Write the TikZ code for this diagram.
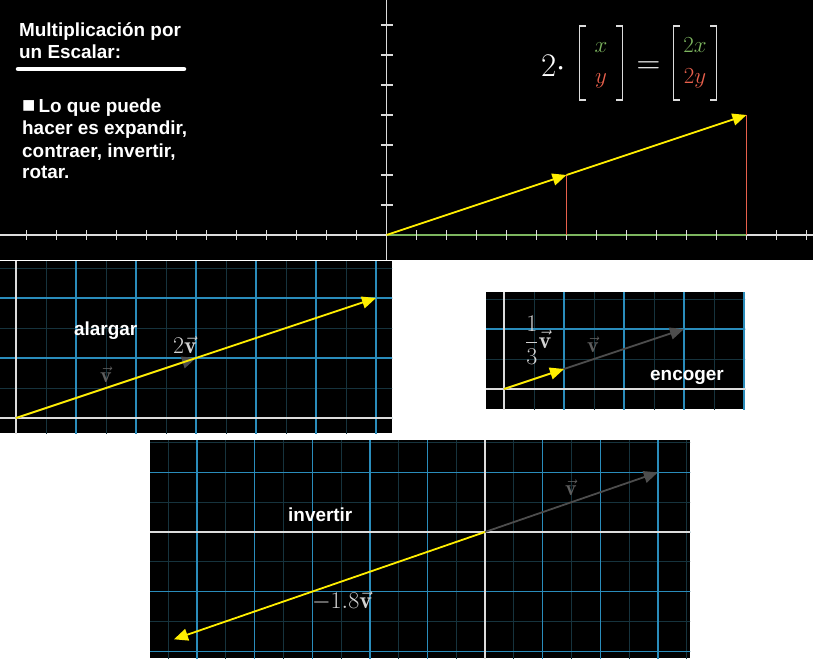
\RequirePackage{fix-cm}
\documentclass[tikz,border=0pt]{standalone}
\usepackage{fontspec}
\usetikzlibrary{arrows.meta}
\newfontfamily\lib{Liberation Sans}
\definecolor{axgray}{HTML}{DCDCDC}
\definecolor{gridblue}{HTML}{2A8CBB}
\definecolor{gridteal}{HTML}{16333D}
\definecolor{vyellow}{HTML}{FFEE00}
\definecolor{vgray}{HTML}{4D4D4D}
\definecolor{lblgray}{HTML}{5E5E5E}
\definecolor{lbllight}{HTML}{D2D2D2}
\definecolor{mgreen}{HTML}{7DB55F}
\definecolor{mred}{HTML}{E8604C}
\begin{document}
\begin{tikzpicture}[x=1pt,y=-1pt,
  txt/.style={text=white, font=\lib\bfseries\fontsize{18.9}{22}\selectfont, inner sep=0pt, anchor=base west},
  mathlbl/.style={inner sep=0pt, font=\fontsize{24}{28}\selectfont},
  graylbl/.style={inner sep=0pt, text=lblgray, font=\fontsize{22}{26}\selectfont},
  bigmath/.style={inner sep=0pt, text=white, font=\fontsize{33}{38}\selectfont},
  entry/.style={inner sep=0pt, anchor=base, font=\fontsize{23}{27}\selectfont},
  axisline/.style={draw=axgray, line width=1.5pt},
  gaxis/.style={draw=axgray, line width=1.8pt},
  majorgrid/.style={draw=gridblue, line width=1.4pt},
  minorgrid/.style={draw=gridteal, line width=0.8pt},
  redline/.style={draw=mred, line width=1.6pt},
  bracketline/.style={draw=axgray, line width=1.6pt},
  yvec/.style={draw=vyellow, line width=1.8pt, -{Triangle[length=14pt,width=12pt]}},
  gvec/.style={draw=vgray, line width=1.8pt, -{Triangle[length=14pt,width=12pt]}}
]
\useasboundingbox (0,0) rectangle (817,662);
\fill[white] (0,0) rectangle (817,662);

% ---------------- top panel ----------------
\fill[black] (0,0) rectangle (813,260);
\coordinate (O) at (386.5,235);
\coordinate (Vx) at (566.5,235);
\coordinate (V) at (566.5,175);
\coordinate (Wx) at (746.5,235);
\coordinate (W) at (746.5,115);
\coordinate (axL) at (0,235);
\coordinate (axR) at (813,235);
\coordinate (axT) at (386.5,0);
\coordinate (axB) at (386.5,260);
\draw[axisline] (axL) -- (axR);
\draw[axisline] (axT) -- (axB);
\draw[mgreen, line width=2pt] (O) -- (Wx);
\foreach \k in {-12,...,-1} \draw[axisline] ({386.5+30*\k},230) -- ({386.5+30*\k},240);
\foreach \k in {1,...,14} \draw[axisline] ({386.5+30*\k},230) -- ({386.5+30*\k},240);
\foreach \k in {1,...,7} \draw[axisline] (380.5,{235-30*\k}) -- (392.5,{235-30*\k});
\draw[redline] (Vx) -- (V);
\draw[redline] (Wx) -- (W);
\draw[yvec] (O) -- (V);
\draw[yvec] (V) -- (W);

% equation
\node[bigmath, anchor=base west] (two) at (541,76) {$2\cdot$};
\draw[bracketline] (586,26) -- (579.5,26) -- (579.5,100) -- (586,100);
\draw[bracketline] (616,26) -- (622.5,26) -- (622.5,100) -- (616,100);
\node[entry, text=mgreen] (ex) at (601,52) {$x$};
\node[entry, text=mred] (ey) at (601,83) {$y$};
\node[bigmath, anchor=base] (eq) at (648.5,73.5) {$=$};
\draw[bracketline] (680,26) -- (673.5,26) -- (673.5,100) -- (680,100);
\draw[bracketline] (710,26) -- (716.5,26) -- (716.5,100) -- (710,100);
\node[entry, text=mgreen] (e2x) at (695,52) {$2x$};
\node[entry, text=mred] (e2y) at (695,83) {$2y$};

% text
\node[txt] (t1) at (19,36) {Multiplicación por};
\node[txt] (t2) at (19,58) {un Escalar:};
\coordinate (u1) at (18,69);
\coordinate (u2) at (184,69);
\draw[white, line width=4.5pt, line cap=round] (u1) -- (u2);
\node[txt] (b1) at (22,112) {{\fontsize{22}{22}\selectfont■}\,Lo que puede};
\node[txt] (b2) at (22,134) {hacer es expandir,};
\node[txt] (b3) at (22,157) {contraer, invertir,};
\node[txt] (b4) at (22,178) {rotar.};

% ---------------- panel 2: alargar ----------------
\fill[black] (0,261) rectangle (392,433);
\begin{scope}
\clip (0,261) rectangle (392,433);
\begin{scope}[shift={(16,418)}, x=60pt, y=60pt]
  \draw[minorgrid] (-1,-1) grid[step=0.5] (7,3);
  \draw[majorgrid] (-1,-1) grid[step=1] (7,3);
  \draw[gaxis] (-1,0) -- (7,0);
  \draw[gaxis] (0,-1) -- (0,3);
  \coordinate (A0) at (0,0);
  \coordinate (A1) at (3,1);
  \coordinate (A2) at (6,2);
  \draw[gvec] (A0) -- (A1);
  \draw[yvec] (A0) -- (A2);
\end{scope}
\end{scope}
\node[mathlbl, text=lbllight] (L2v) at (185,345) {$2\vec{\mathbf{v}}$};
\node[graylbl] (Lv2) at (106,375) {$\vec{\mathbf{v}}$};
\node[txt] (alargar) at (74,335) {alargar};

% ---------------- panel 3: encoger ----------------
\fill[black] (486,292) rectangle (745,409);
\begin{scope}
\clip (486,292) rectangle (745,409);
\begin{scope}[shift={(504,389)}, x=60pt, y=60pt]
  \draw[minorgrid] (-1,-1) grid[step=0.5] (5,2);
  \draw[majorgrid] (-1,-1) grid[step=1] (5,2);
  \draw[gaxis] (-1,0) -- (5,0);
  \draw[gaxis] (0,-1) -- (0,2);
  \coordinate (B0) at (0,0);
  \coordinate (B1) at (3,1);
  \coordinate (B2) at (1,1/3);
  \draw[gvec] (B0) -- (B1);
  \draw[yvec] (B0) -- (B2);
\end{scope}
\end{scope}
\node[mathlbl, text=lbllight, anchor=base west] (Lthird) at (525,348) {$\displaystyle\frac{1}{3}\vec{\mathbf{v}}$};
\node[graylbl] (Lv3) at (593,345) {$\vec{\mathbf{v}}$};
\node[txt] (encoger) at (650,380) {encoger};

% ---------------- panel 4: invertir ----------------
\fill[black] (150,440) rectangle (690,658);
\begin{scope}
\clip (150,440) rectangle (690,658);
\begin{scope}[shift={(485,532)}, x=57.6pt, y=59.6pt]
  \draw[minorgrid] (-7,-3) grid[step=0.5] (5,3);
  \draw[majorgrid] (-7,-3) grid[step=1] (5,3);
  \draw[gaxis] (-7,0) -- (5,0);
  \draw[gaxis] (0,-3) -- (0,3);
  \coordinate (C0) at (0,0);
  \coordinate (C1) at (3,1);
  \coordinate (C2) at (-5.4,-1.8);
  \draw[gvec] (C0) -- (C1);
  \draw[yvec] (C0) -- (C2);
\end{scope}
\end{scope}
\node[mathlbl, text=lbllight] (Lneg) at (342,601) {$-1.8\vec{\mathbf{v}}$};
\node[graylbl] (Lv4) at (571,488) {$\vec{\mathbf{v}}$};
\node[txt] (invertir) at (288,521) {invertir};
\end{tikzpicture}
\end{document}
